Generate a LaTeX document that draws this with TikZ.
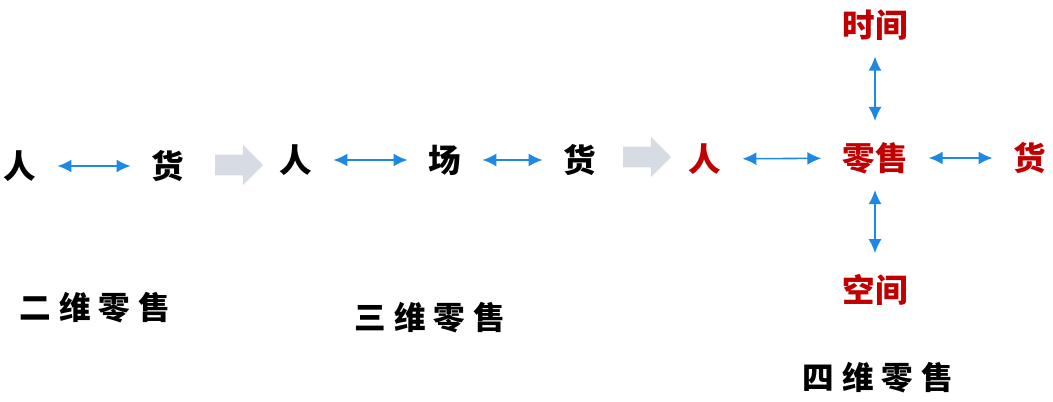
\documentclass[tikz,border=0pt]{standalone}
\usepackage{fontspec}
\newfontfamily\cjk{Noto Sans CJK SC}
\newfontfamily\cjkwide{Noto Sans CJK SC}[LetterSpace=25]
\usepackage{color}
\definecolor{myred}{RGB}{192,0,0}
\definecolor{myblue}{RGB}{30,136,229}
\definecolor{mygray}{RGB}{215,220,228}
\usepackage{tikz}
\usetikzlibrary{arrows,arrows.meta,shapes.arrows,positioning}
\tikzstyle{word}=[font=\cjk\bfseries\fontsize{18.5}{20}\selectfont]
\tikzstyle{redword}=[word,text=myred]
\tikzstyle{caption}=[font=\cjkwide\bfseries\fontsize{18}{20}\selectfont]
\tikzstyle{link}=[myblue,line width=0.9pt,{Latex[length=2.8mm,width=2.6mm]}-{Latex[length=2.8mm,width=2.6mm]},shorten <=0.3cm,shorten >=0.3cm]
\tikzstyle{bigarrow}=[single arrow,fill=mygray,minimum height=0.96cm,minimum width=0.8cm,single arrow head extend=0.2cm,inner sep=0.2cm]

\begin{document}
\begin{tikzpicture}
\useasboundingbox (0,0) rectangle (21.06,8.02);
% two dimensions
\node [word] (ren1) at (0.40,4.70) {人};
\node [word] (huo1) at (3.36,4.70) {货};
\node [caption] (two) at (1.90,1.86) {二维零售};
\draw [link] (ren1) -- (huo1);
\node [bigarrow] (step1) at (4.68,4.72) {};
% three dimensions
\node [word] (ren2) at (5.92,4.82) {人};
\node [word] (chang2) at (8.90,4.82) {场};
\node [word] (huo2) at (11.60,4.82) {货};
\node [caption] (three) at (8.60,1.66) {三维零售};
\draw [link] (ren2) -- (chang2);
\draw [link] (chang2) -- (huo2);
\node [bigarrow] (step2) at (12.84,4.88) {};
% four dimensions
\node [redword] (ren3) at (14.10,4.84) {人};
\node [redword] (retail) at (17.50,4.86) {零售};
\node [redword] (huo3) at (20.60,4.86) {货};
\node [redword] (time) at (17.50,7.52) {时间};
\node [redword] (space) at (17.50,2.22) {空间};
\node [caption] (four) at (17.56,0.46) {四维零售};
\draw [link] (ren3) -- (retail);
\draw [link] (retail) -- (huo3);
\draw [link,shorten <=0.2cm] (time) -- (retail);
\draw [link,shorten <=0.2cm] (retail) -- (space);
\end{tikzpicture}
\end{document}
